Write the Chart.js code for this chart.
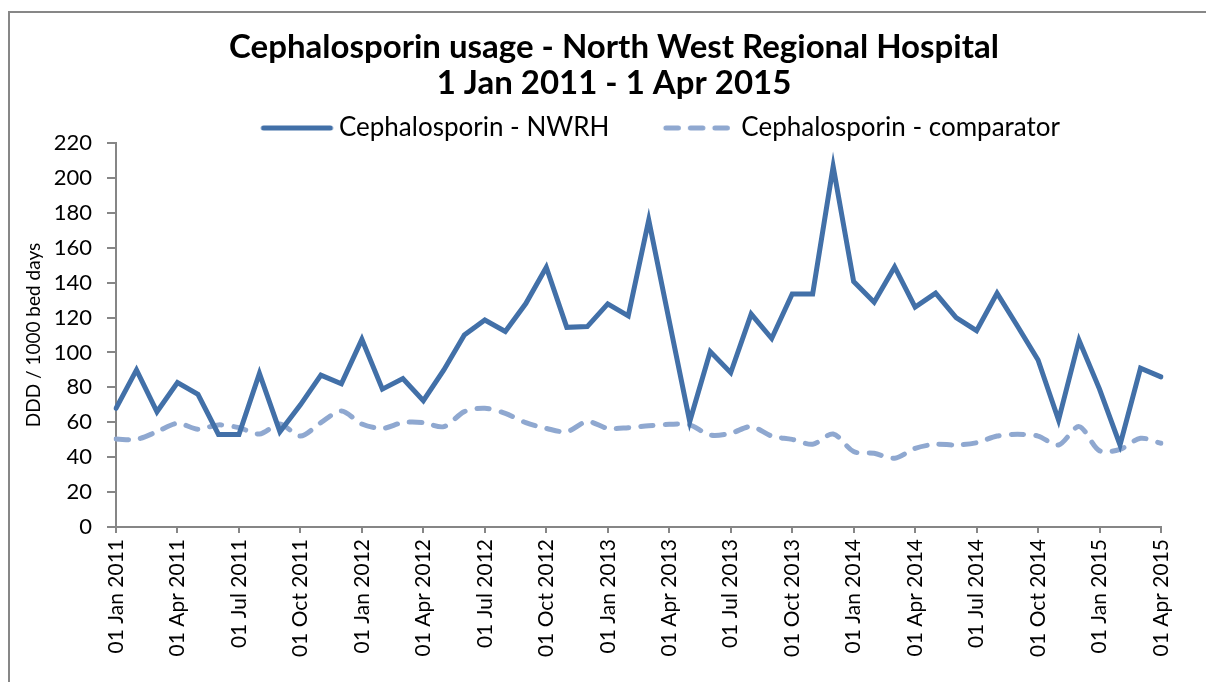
<!DOCTYPE html>
<html>
<head>
<meta charset="utf-8">
<script src="https://cdn.jsdelivr.net/npm/chart.js@4.4.1/dist/chart.umd.min.js"></script>
<style>
html,body{margin:0;padding:0;background:#fff;}
#wrap{position:relative;width:1206px;height:682px;overflow:hidden;background:#fff;}
#frame{position:absolute;left:8px;top:11px;width:1400px;height:900px;border-top:2px solid #878787;border-left:2px solid #878787;}
#c{position:absolute;left:0;top:0;}
</style>
</head>
<body>
<div id="wrap"><div id="frame"></div><canvas id="c" width="1206" height="682"></canvas></div>
<script>
const categories = [
  "01 Jan 2011","01 Feb 2011","01 Mar 2011","01 Apr 2011","01 May 2011","01 Jun 2011",
  "01 Jul 2011","01 Aug 2011","01 Sep 2011","01 Oct 2011","01 Nov 2011","01 Dec 2011",
  "01 Jan 2012","01 Feb 2012","01 Mar 2012","01 Apr 2012","01 May 2012","01 Jun 2012",
  "01 Jul 2012","01 Aug 2012","01 Sep 2012","01 Oct 2012","01 Nov 2012","01 Dec 2012",
  "01 Jan 2013","01 Feb 2013","01 Mar 2013","01 Apr 2013","01 May 2013","01 Jun 2013",
  "01 Jul 2013","01 Aug 2013","01 Sep 2013","01 Oct 2013","01 Nov 2013","01 Dec 2013",
  "01 Jan 2014","01 Feb 2014","01 Mar 2014","01 Apr 2014","01 May 2014","01 Jun 2014",
  "01 Jul 2014","01 Aug 2014","01 Sep 2014","01 Oct 2014","01 Nov 2014","01 Dec 2014",
  "01 Jan 2015","01 Feb 2015","01 Mar 2015","01 Apr 2015"
];
const nwrh = [
  68, 90, 66, 82.7, 76, 53, 53, 88, 54.6, 70, 87, 82,
  107.5, 79, 85, 72.4, 90, 110, 118.6, 112, 128, 148.8, 114.4, 114.8,
  127.8, 121, 175.9, 118, 60.4, 100.5, 88.4, 122, 108, 133.5, 133.5, 206.5,
  140.6, 128.8, 149, 126, 134, 120, 112.5, 134, 115, 95.7, 61.3, 107,
  79, 47, 91, 86
];
const comparator = [
  50.4, 50.2, 54.6, 59.4, 56, 58.5, 56.9, 53.3, 59, 52.1, 59.8, 66.5,
  59, 56.5, 59.8, 59.8, 57.5, 66.1, 68, 65.1, 59.8, 56.5, 54.6, 60.4,
  56.5, 56.9, 58, 58.8, 58.5, 52.7, 53.7, 57.5, 52.1, 50.2, 47.4, 53.3,
  43.2, 42.2, 39.4, 45.1, 47.4, 47, 48.3, 52.1, 53.1, 52.1, 47, 57.5,
  43.7, 44.5, 50.8, 48
];
const seriesNames = ["Cephalosporin - NWRH", "Cephalosporin - comparator"];
const titleLines = ["Cephalosporin usage - North West Regional Hospital", "1 Jan 2011 - 1 Apr 2015"];
const yAxisTitle = "DDD / 1000 bed days";

const solidColor = "#4270a8";
const dashColor = "#8fa8d0";
const dashPattern = [12.5, 12];

function legendSample(color, dash, len) {
  const c = document.createElement('canvas');
  c.width = 160; c.height = 10;
  const g = c.getContext('2d');
  g.strokeStyle = color; g.lineWidth = 5; g.lineCap = 'round';
  if (dash) g.setLineDash(dash);
  g.beginPath(); g.moveTo(69.5 + 2.5, 5); g.lineTo(69.5 + len - 2.5, 5); g.stroke();
  return c;
}
const samples = [legendSample(solidColor, null, 72), legendSample(dashColor, dashPattern, 67)];

// centre the title block over the framed chart box (frame spans x 8 .. ~1220)
const titleCentre = {
  id: 'titleCentre',
  afterLayout(chart) {
    const t = chart.titleBlock;
    if (t) { t.left = 0; t.right = 1228; }
  }
};

Chart.defaults.font.family = "Lato, 'Open Sans', sans-serif";
Chart.defaults.color = "#000";

new Chart(document.getElementById('c'), {
  type: 'line',
  data: {
    labels: categories,
    datasets: [
      { label: seriesNames[0], data: nwrh, borderColor: solidColor, backgroundColor: solidColor,
        borderWidth: 5, pointRadius: 0, tension: 0, borderJoinStyle: 'miter', borderCapStyle: 'round', fill: false },
      { label: seriesNames[1], data: comparator, borderColor: dashColor, backgroundColor: dashColor,
        borderWidth: 5, borderDash: dashPattern, borderCapStyle: 'round', borderJoinStyle: 'round',
        pointRadius: 0, tension: 0.3, fill: false }
    ]
  },
  plugins: [titleCentre],
  options: {
    responsive: false,
    animation: false,
    events: [],
    layout: { padding: { left: 0, right: 45, top: 0, bottom: 0 } },
    plugins: {
      tooltip: { enabled: false },
      title: {
        display: true, text: titleLines, color: '#000',
        font: { size: 33, weight: 'bold', lineHeight: '36px' },
        padding: { top: 29, bottom: 4 }
      },
      legend: {
        display: true, position: 'top', fullSize: false, maxHeight: 38,
        labels: {
          usePointStyle: true, pointStyleWidth: 109, padding: 10,
          font: { size: 26 }, color: '#000',
          generateLabels: (chart) => {
            const items = Chart.defaults.plugins.legend.labels.generateLabels(chart);
            items.forEach((it, i) => { it.pointStyle = samples[i]; });
            return items;
          }
        }
      }
    },
    scales: {
      x: {
        type: 'category',
        offset: false,
        grid: { drawOnChartArea: false, drawTicks: true, tickLength: 6, color: '#868686', lineWidth: 2 },
        border: { color: '#868686', width: 2 },
        ticks: { autoSkip: false, minRotation: 90, maxRotation: 90, padding: 6, font: { size: 21 }, color: '#000' },
        afterBuildTicks: (scale) => { scale.ticks = scale.ticks.filter(t => t.value % 3 === 0); },
        afterFit: (scale) => { scale.height = 155; }
      },
      y: {
        min: 0, max: 220,
        grid: { drawOnChartArea: false, drawTicks: true, tickLength: 9, color: '#868686', lineWidth: 2 },
        border: { color: '#868686', width: 2 },
        ticks: { stepSize: 20, padding: 15, font: { size: 22 }, color: '#000' },
        title: { display: true, text: yAxisTitle, font: { size: 19 }, color: '#000', padding: { top: 22, bottom: 0 } },
        afterFit: (scale) => { scale.width = 116; }
      }
    }
  }
});
</script>
</body>
</html>
